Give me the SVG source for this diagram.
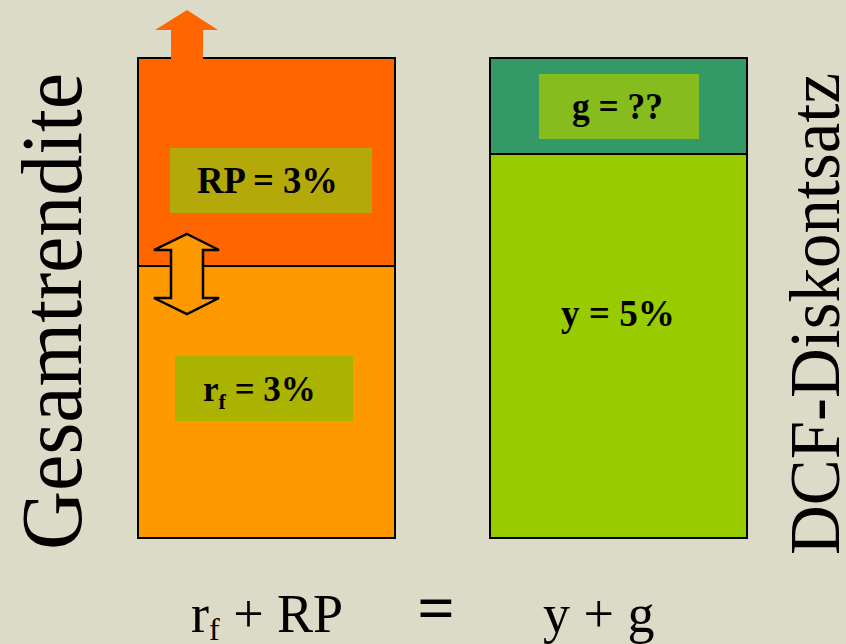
<svg xmlns="http://www.w3.org/2000/svg" width="846" height="644" viewBox="0 0 846 644">
<style>
.lbl{font-family:"Liberation Serif","Times New Roman",serif;font-weight:bold;fill:#000;}
.big{font-family:"Liberation Serif","Times New Roman",serif;fill:#000;}
.box{stroke:#000;stroke-width:2;}
.arr{stroke:#000;stroke-width:2.5;stroke-linejoin:miter;}
</style>
<rect width="846" height="644" fill="#DCDBC7"/>
<g id="left-column">
  <rect class="box" x="138" y="58" width="257" height="208" fill="#FF6600"/>
  <rect class="box" x="138" y="266" width="257" height="272" fill="#FF9900"/>
</g>
<g id="up-arrow">
  <polygon points="187,10 218,30 203,30 203,59 171,59 171,30 155,30" fill="#FF6600"/>
</g>
<g id="rp-label">
  <rect x="170" y="148" width="202" height="65" fill="#B3A908"/>
  <text class="lbl" x="197" y="193" font-size="37" textLength="141" lengthAdjust="spacingAndGlyphs">RP = 3%</text>
</g>
<g id="rf-label">
  <rect x="175" y="356" width="178" height="65" fill="#AAB300"/>
  <text class="lbl" x="203" y="401" font-size="35">r<tspan font-size="22" dy="8">f</tspan><tspan dy="-8"> = 3%</tspan></text>
</g>
<g id="double-arrow">
  <polygon class="arr" points="187,234 219,250 203,250 203,298 219,298 187,314 154,298 171,298 171,250 154,250" fill="#FF9900"/>
</g>
<g id="right-column">
  <rect class="box" x="490" y="58" width="257" height="96" fill="#339966"/>
  <rect class="box" x="490" y="154" width="257" height="384" fill="#99CC00"/>
</g>
<g id="g-label">
  <rect x="539" y="74" width="160" height="65" fill="#86BC1E"/>
  <text class="lbl" x="572" y="119" font-size="37" textLength="91" lengthAdjust="spacingAndGlyphs">g = ??</text>
</g>
<g id="y-label">
  <text class="lbl" x="561" y="326" font-size="37" textLength="114" lengthAdjust="spacingAndGlyphs">y = 5%</text>
</g>
<g id="side-left">
  <text class="big" transform="translate(81,550) rotate(-90)" font-size="86" textLength="477" lengthAdjust="spacingAndGlyphs">Gesamtrendite</text>
</g>
<g id="side-right">
  <text class="big" transform="translate(839,555) rotate(-90)" font-size="71" textLength="482" lengthAdjust="spacingAndGlyphs">DCF-Diskontsatz</text>
</g>
<g id="formula">
  <text class="big" x="191" y="632" font-size="54">r<tspan font-size="32" dy="8">f</tspan><tspan dy="-8"> + RP</tspan></text>
  <text class="lbl" x="436" y="630" font-size="66" text-anchor="middle">=</text>
  <text class="big" x="543" y="632" font-size="54">y + g</text>
</g>
</svg>
